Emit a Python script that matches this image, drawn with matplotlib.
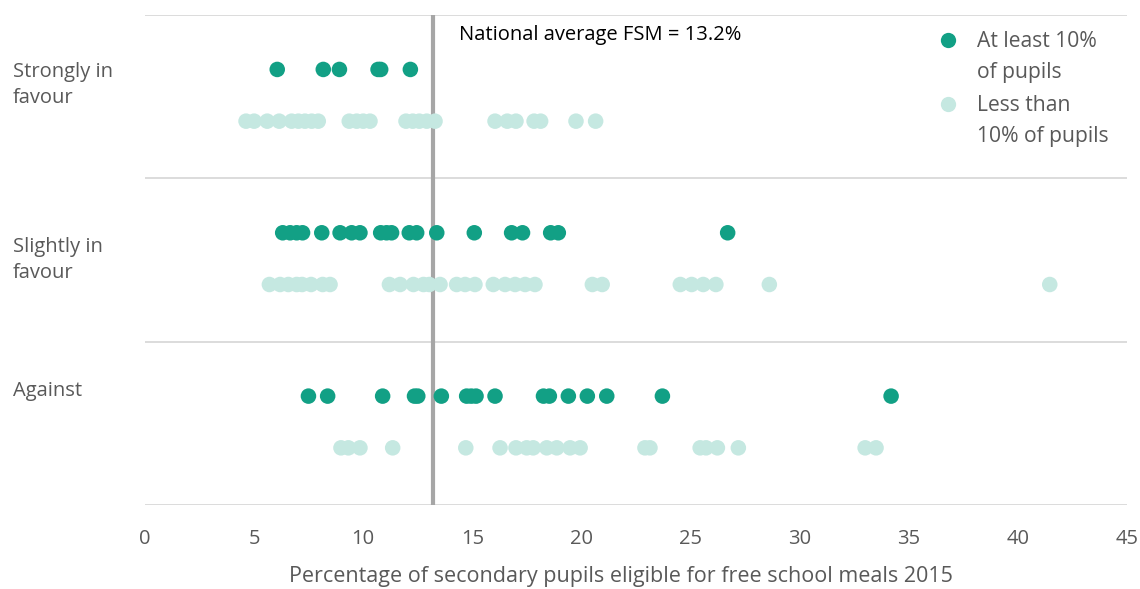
import numpy as np
import matplotlib.pyplot as plt
from matplotlib.transforms import blended_transform_factory

plt.rcParams['font.family'] = ['Open Sans', 'DejaVu Sans']

# categories, bottom to top
categories = ['Against', 'Slightly in\nfavour', 'Strongly in\nfavour']

# FSM % of schools, at least 10% of pupils (dark) / less than 10% (light)
strong_dark = [6.06, 8.17, 8.91, 10.68, 10.8, 12.16]
strong_light = [4.63, 5.0, 5.6, 6.15, 6.72, 7.03, 7.33, 7.64, 7.94, 9.36, 9.7, 10.0,
                10.31, 11.96, 12.27, 12.57, 12.91, 13.29, 16.04, 16.6, 17.0, 17.83,
                18.13, 19.75, 20.65]
slight_dark = [6.31, 6.65, 6.95, 7.22, 8.1, 8.94, 9.47, 9.85, 10.8, 11.07, 11.3,
               12.11, 12.45, 13.37, 15.09, 16.8, 17.3, 18.59, 18.94, 26.7]
slight_light = [5.7, 6.19, 6.57, 6.95, 7.2, 7.61, 8.14, 8.48, 11.2, 11.69, 12.3,
                12.76, 13.03, 13.52, 14.28, 14.67, 15.12, 15.96, 16.5, 16.96, 17.42,
                17.87, 20.5, 20.95, 24.53, 25.05, 25.58, 26.16, 28.61, 41.46]
against_dark = [7.49, 8.37, 10.89, 12.35, 12.5, 13.58, 14.74, 14.95, 15.17, 16.04,
                18.26, 18.53, 19.4, 20.27, 21.16, 23.71, 34.19]
against_light = [8.98, 9.32, 9.85, 11.35, 14.7, 16.27, 17.0, 17.49, 17.79, 18.41,
                 18.87, 19.48, 19.94, 22.91, 23.14, 25.44, 25.71, 26.23, 27.19,
                 33.0, 33.5]

dark_series = [against_dark, slight_dark, strong_dark]
light_series = [against_light, slight_light, strong_light]
national_avg = 13.2

dark = '#12A085'
light = '#C5E8E1'
txt = '#595959'

fig = plt.figure(figsize=(11.4, 5.89), dpi=100)
ax = fig.add_axes([145 / 1140, 1 - 505 / 589, 982 / 1140, 490 / 589])

for i in range(3):
    ax.scatter(dark_series[i], np.full(len(dark_series[i]), i + 2 / 3), s=125,
               color=dark, edgecolors='none', zorder=3)
    ax.scatter(light_series[i], np.full(len(light_series[i]), i + 0.35), s=125,
               color=light, edgecolors='none', zorder=3)

for yy in range(4):
    ax.axhline(yy, color='#D9D9D9', lw=1.3, zorder=1)
ax.axvline(national_avg, color='#A6A6A6', lw=3, zorder=2)
ax.text(national_avg + 1.2, 2.88, 'National average FSM = 13.2%', fontsize=14.5,
        color='black', va='center')

ax.set_xlim(0, 45)
ax.set_ylim(0, 3)
ax.set_xticks(range(0, 46, 5))
ax.set_yticks([])
for s in ax.spines.values():
    s.set_visible(False)
ax.tick_params(axis='x', length=0, labelsize=14.5, labelcolor=txt, pad=17)
ax.set_xlabel('Percentage of secondary pupils eligible for free school meals 2015',
              fontsize=15.5, color=txt)
ax.xaxis.set_label_coords(0.485, -0.125)

tr = blended_transform_factory(fig.transFigure, ax.transData)
label_y = [0.70, 1.50, 2.57]
for lab, yy in zip(categories, label_y):
    ax.text(13 / 1140, yy, lab, transform=tr, fontsize=14.5, color=txt,
            va='center', ha='left', linespacing=1.4)

# legend drawn by hand so the dot sits by the first line
legend_items = [(dark, 'At least 10%\nof pupils', 40), (light, 'Less than\n10% of pupils', 104)]
for col, lab, py in legend_items:
    fig.lines.append(plt.Line2D([948 / 1140], [1 - py / 589], marker='o', markersize=11,
                                color=col, markeredgecolor='none',
                                transform=fig.transFigure))
    fig.text(977 / 1140, 1 - (py - 9) / 589, lab, fontsize=15.2, color=txt,
             va='top', ha='left', linespacing=1.65)

fig.savefig('out.png', dpi=100)
